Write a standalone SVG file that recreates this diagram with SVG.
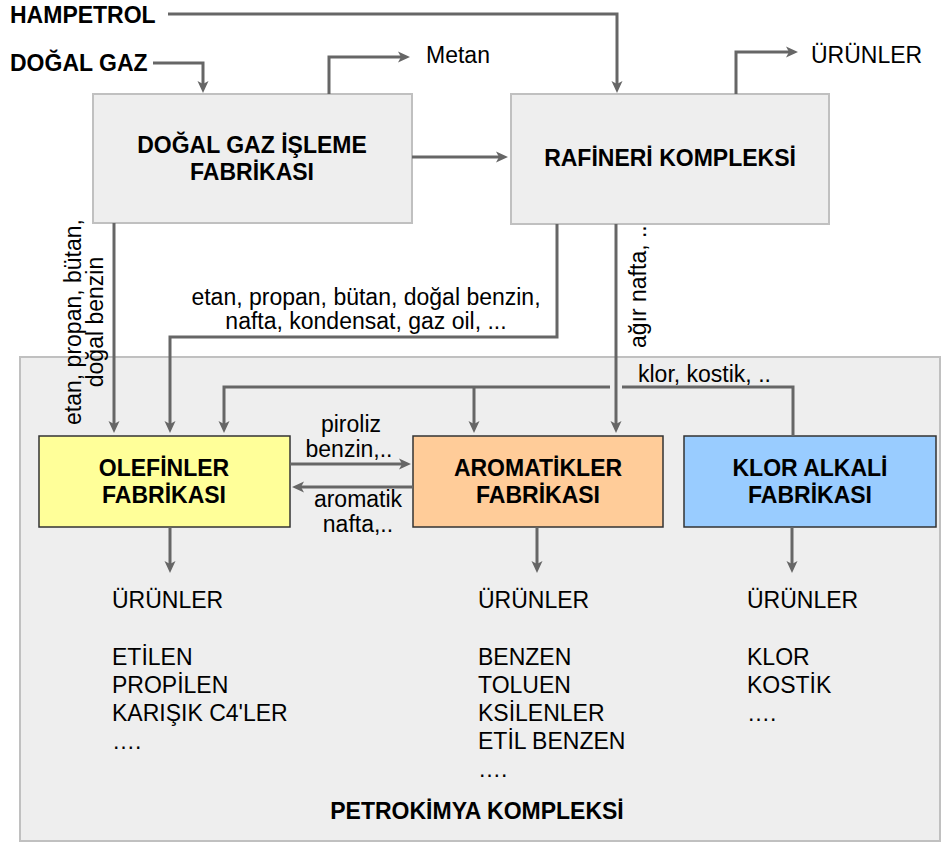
<svg xmlns="http://www.w3.org/2000/svg" width="941" height="843" viewBox="0 0 941 843">
<defs>
<marker id="ah" markerUnits="userSpaceOnUse" markerWidth="12" markerHeight="11" refX="6" refY="5.5" orient="auto" overflow="visible">
<path d="M0,0 L12,5.5 L0,11 L3,5.5 z" fill="#666666"/>
</marker>
<style>
text{font-family:"Liberation Sans",Arial,sans-serif;font-size:23px;fill:#000}
.b{font-weight:bold}
.m{text-anchor:middle}
.gray{fill:#eeeeee;stroke:#c0c0c0;stroke-width:2}
.plant{stroke:#333333;stroke-width:1.5}
.c{fill:none;stroke:#666666;stroke-width:3}
.a{marker-end:url(#ah)}
</style>
</defs>
<rect width="941" height="843" fill="#ffffff"/>
<g id="petrokimya">
<rect class="gray" x="20" y="357" width="920" height="484"/>
<text class="b m" x="477" y="819">PETROKİMYA KOMPLEKSİ</text>
</g>
<g id="inputs">
<text class="b" x="10" y="23">HAMPETROL</text>
<text class="b" x="10" y="71">DOĞAL GAZ</text>
</g>
<g id="dogalgaz">
<rect class="gray" x="93" y="94" width="319" height="129"/>
<text class="b m" x="252" y="153">DOĞAL GAZ İŞLEME</text>
<text class="b m" x="252" y="180">FABRİKASI</text>
</g>
<g id="rafineri">
<rect class="gray" x="511" y="94" width="318" height="130"/>
<text class="b m" x="670" y="166">RAFİNERİ KOMPLEKSİ</text>
</g>
<g id="olefinler">
<rect class="plant" x="39" y="436" width="251" height="91" fill="#ffff99"/>
<text class="b m" x="164" y="476">OLEFİNLER</text>
<text class="b m" x="164" y="503">FABRİKASI</text>
</g>
<g id="aromatikler">
<rect class="plant" x="413" y="436" width="250" height="91" fill="#ffcc99"/>
<text class="b m" x="538" y="476">AROMATİKLER</text>
<text class="b m" x="538" y="503">FABRİKASI</text>
</g>
<g id="klor">
<rect class="plant" x="684" y="436" width="252" height="91" fill="#99ccff"/>
<text class="b m" x="810" y="476">KLOR ALKALİ</text>
<text class="b m" x="810" y="503">FABRİKASI</text>
</g>
<g id="connectors">
<path class="c a" d="M168,14 H617 V87"/>
<path class="c a" d="M153,63 H203 V87"/>
<path class="c a" d="M329,94 V57 H404"/>
<path class="c a" d="M736,94 V52 H792"/>
<path class="c a" d="M412,157 H502"/>
<path class="c a" d="M114,223 V427"/>
<path class="c a" d="M557,224 V337 H170 V427"/>
<path class="c a" d="M616,224 V427"/>
<path class="c" d="M793,436 V387 H622"/>
<path class="c a" d="M610,387 H224 V427"/>
<path class="c a" d="M474,387 V427"/>
<path class="c a" d="M290,464 H405"/>
<path class="c a" d="M413,487 H298"/>
<path class="c a" d="M170,527 V567"/>
<path class="c a" d="M537,527 V567"/>
<path class="c a" d="M792,527 V567"/>
</g>
<g id="labels">
<text x="426" y="63">Metan</text>
<text x="811" y="63">ÜRÜNLER</text>
<text class="m" transform="translate(81,322) rotate(-90)">etan, propan, bütan,</text>
<text class="m" transform="translate(103,322) rotate(-90)">doğal benzin</text>
<text class="m" x="366" y="305">etan, propan, bütan, doğal benzin,</text>
<text class="m" x="366" y="329">nafta, kondensat, gaz oil, ...</text>
<text transform="translate(646,348) rotate(-90)">ağır nafta, ..</text>
<text x="638" y="382">klor, kostik, ..</text>
<text class="m" x="351" y="432">piroliz</text>
<text class="m" x="349" y="457">benzin,..</text>
<text class="m" x="358" y="507">aromatik</text>
<text class="m" x="358" y="532">nafta,..</text>
</g>
<g id="products">
<text x="112" y="608">ÜRÜNLER</text>
<text x="112" y="665">ETİLEN</text>
<text x="112" y="693">PROPİLEN</text>
<text x="112" y="721">KARIŞIK C4'LER</text>
<text x="112" y="749">….</text>
<text x="478" y="608">ÜRÜNLER</text>
<text x="478" y="665">BENZEN</text>
<text x="478" y="693">TOLUEN</text>
<text x="478" y="721">KSİLENLER</text>
<text x="478" y="749">ETİL BENZEN</text>
<text x="478" y="777">….</text>
<text x="747" y="608">ÜRÜNLER</text>
<text x="747" y="665">KLOR</text>
<text x="747" y="693">KOSTİK</text>
<text x="747" y="721">….</text>
</g>
</svg>
